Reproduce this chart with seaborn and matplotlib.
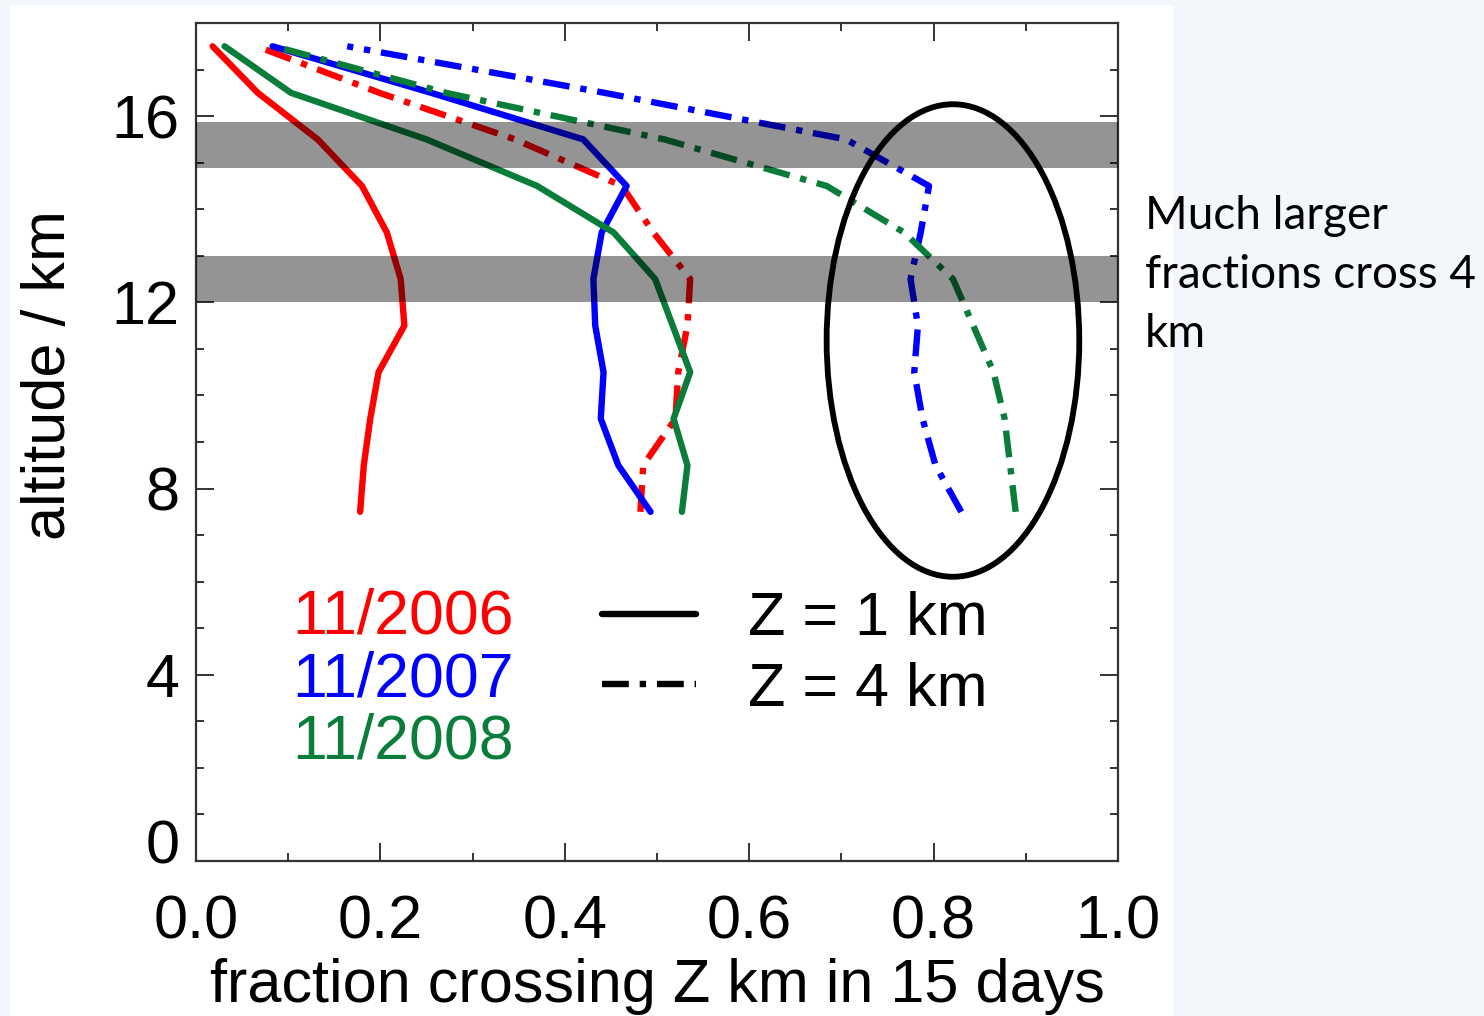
import numpy as np
import pandas as pd
import matplotlib
matplotlib.use("Agg")
import matplotlib.pyplot as plt
import seaborn as sns
from matplotlib.patches import Ellipse, Rectangle
from matplotlib.lines import Line2D
from matplotlib.transforms import ScaledTranslation
from matplotlib.ticker import MultipleLocator

# ---------------- data ----------------
altitude = [7.5, 8.5, 9.5, 10.5, 11.5, 12.5, 13.5, 14.5, 15.5, 16.5, 17.5]
years = ["11/2006", "11/2007", "11/2008"]
z_levels = ["Z = 1 km", "Z = 4 km"]

frac_2006_z1 = [0.178, 0.182, 0.189, 0.198, 0.226, 0.222, 0.207, 0.180, 0.132, 0.067, 0.018]
frac_2007_z1 = [0.493, 0.458, 0.439, 0.442, 0.433, 0.431, 0.440, 0.467, 0.420, 0.255, 0.083]
frac_2008_z1 = [0.527, 0.533, 0.518, 0.536, 0.517, 0.498, 0.453, 0.370, 0.250, 0.103, 0.031]
frac_2006_z4 = [0.482, 0.485, 0.520, 0.523, 0.533, 0.536, 0.496, 0.462, 0.346, 0.199, 0.066]
frac_2007_z4 = [0.830, 0.802, 0.788, 0.779, 0.783, 0.775, 0.786, 0.795, 0.705, 0.443, 0.164]
frac_2008_z4 = [0.889, 0.883, 0.877, 0.865, 0.843, 0.821, 0.768, 0.684, 0.508, 0.271, 0.085]

bands = [(14.88, 15.88), (12.0, 13.0)]
ellipse_center = (0.821, 11.18)
ellipse_size = (0.274, 10.15)

x_ticks = [0.0, 0.2, 0.4, 0.6, 0.8, 1.0]
y_ticks = [0, 4, 8, 12, 16]

series = {
    ("11/2006", "Z = 1 km"): frac_2006_z1,
    ("11/2007", "Z = 1 km"): frac_2007_z1,
    ("11/2008", "Z = 1 km"): frac_2008_z1,
    ("11/2006", "Z = 4 km"): frac_2006_z4,
    ("11/2007", "Z = 4 km"): frac_2007_z4,
    ("11/2008", "Z = 4 km"): frac_2008_z4,
}
rows = []
for (yr, z), vals in series.items():
    for a, v in zip(altitude, vals):
        rows.append({"year": yr, "Z": z, "altitude": a, "fraction": v})
df = pd.DataFrame(rows)

colors = {"11/2006": "#ff0000", "11/2007": "#0000ff", "11/2008": "#0a7d3b"}
dashdot = (4.2, 1.7, 1.0, 1.7)
dashes = {"Z = 1 km": "", "Z = 4 km": dashdot}
LW = 4.6
LW_ELL = 4.2

# ---------------- style ----------------
sns.set_style("ticks")
plt.rcParams["font.family"] = ["Liberation Sans", "DejaVu Sans"]
plt.rcParams["text.color"] = "black"
plt.rcParams["axes.labelcolor"] = "black"
plt.rcParams["xtick.labelcolor"] = "black"
plt.rcParams["ytick.labelcolor"] = "black"
FS = 44

fig = plt.figure(figsize=(14.84, 10.16), dpi=100)
fig.patch.set_facecolor("#f3f6fb")
fig.add_artist(Rectangle((10 / 1484, 0), (1173 - 10) / 1484, (1016 - 5) / 1016,
                         transform=fig.transFigure, facecolor="white",
                         edgecolor="none", zorder=-10))

ax = fig.add_axes([196 / 1484, 1 - 861 / 1016, (1118 - 196) / 1484, (861 - 23) / 1016])
ax.set_facecolor("white")

sns.lineplot(data=df, x="fraction", y="altitude", hue="year", style="Z",
             palette=colors, dashes=dashes, orient="y", estimator=None,
             linewidth=LW, legend=False, ax=ax, zorder=2)
for ln in ax.lines:
    ln.set_linewidth(LW)

for lo, hi in bands:
    ax.axhspan(lo, hi, color="black", alpha=0.42, lw=0, zorder=3)

ax.add_patch(Ellipse(ellipse_center, ellipse_size[0], ellipse_size[1],
                     fill=False, lw=LW_ELL, ec="black", zorder=4))

ax.set_xlim(0, 1)
ax.set_ylim(0, 18)
ax.set_xticks(x_ticks)
ax.set_xticklabels([f"{v:.1f}" for v in x_ticks])
ax.set_yticks(y_ticks)
ax.set_yticklabels([str(v) for v in y_ticks])
ax.xaxis.set_minor_locator(MultipleLocator(0.1))
ax.yaxis.set_minor_locator(MultipleLocator(1))

for s in ax.spines.values():
    s.set_linewidth(1.6)
    s.set_color("#333333")
ax.tick_params(which="both", direction="in", top=True, right=True,
               color="#333333", width=1.4)
ax.tick_params(which="major", length=13, labelsize=FS)
ax.tick_params(which="minor", length=6)
ax.tick_params(axis="x", which="major", pad=24)
ax.tick_params(axis="y", which="major", pad=12)

ax.set_xlabel("fraction crossing Z km in 15 days", fontsize=FS, labelpad=5)
ax.set_ylabel("altitude / km", fontsize=FS)
ax.yaxis.set_label_coords(-0.128, 0.58)

# shift the "0" y-label up as in the reference
for lab in ax.get_yticklabels():
    if lab.get_text() == "0":
        lab.set_transform(lab.get_transform() +
                          ScaledTranslation(0, 20 / 100, fig.dpi_scale_trans))

# year labels
year_y = [0.291, 0.216, 0.142]
for yr, yy in zip(years, year_y):
    ax.text(0.104, yy, yr, color=colors[yr], fontsize=FS + 1, transform=ax.transAxes,
            ha="left", va="center", zorder=5)

# line-style legend
handles = [Line2D([], [], color="black", lw=LW, linestyle="-"),
           Line2D([], [], color="black", lw=LW, linestyle=(0, dashdot))]
leg = ax.legend(handles, z_levels, loc="upper left", bbox_to_anchor=(0.44, 0.322),
                frameon=False, fontsize=FS, handlelength=1.55, handletextpad=0.85,
                labelspacing=0.22, borderpad=0, borderaxespad=0)

fig.text(1145 / 1484, 1 - 195 / 1016, "Much larger\nfractions cross 4\nkm",
         fontsize=33, family=["Lato", "DejaVu Sans"], ha="left", va="top",
         linespacing=1.5)

fig.savefig("out.png", dpi=100, facecolor=fig.get_facecolor())
